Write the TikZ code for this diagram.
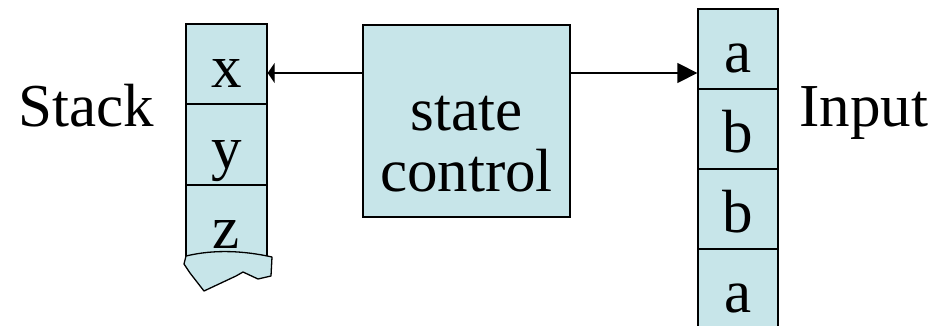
\documentclass[tikz,border=0pt]{standalone}
\usepackage{fontspec}
\setmainfont{Liberation Serif}
\usetikzlibrary{arrows.meta}
\definecolor{cellblue}{RGB}{199,229,233}
\tikzset{
  cell/.style={draw=black, line width=1.3pt, fill=cellblue, minimum width=81pt,
    inner sep=0pt, font=\fontsize{61}{61}\selectfont, text height=52pt, text depth=5pt},
  bigtext/.style={font=\fontsize{61}{61}\selectfont, inner sep=0pt},
  conn/.style={line width=1.3pt},
}
\begin{document}
\begin{tikzpicture}[x=1pt,y=-1pt]
\useasboundingbox (0,0) rectangle (939,326);
% stack
\node[cell, minimum height=80pt] (s1) at (226.5,64) {x};
\node[cell, minimum height=81pt] (s2) at (226.5,144.5) {y};
\node[cell, minimum height=80pt] (s3) at (226.5,225) {z};
% torn bottom
\filldraw[fill=cellblue, draw=black, line width=1.3pt, line join=round]
  (186,256) .. controls (215,249) and (245,251) .. (272,257)
  -- (271,276) -- (258,279) -- (243,272) -- (236,276) -- (204,291)
  -- (190,273) -- (184,264) -- cycle;
% input
\node[cell, minimum width=80pt, minimum height=80pt] (i1) at (738,49) {a};
\node[cell, minimum width=80pt, minimum height=80pt] (i2) at (738,129) {b};
\node[cell, minimum width=80pt, minimum height=80pt] (i3) at (738,209) {b};
\node[cell, minimum width=80pt, minimum height=80pt] (i4) at (738,289) {a};
% state control
\node[draw=black, line width=1.3pt, fill=cellblue, minimum width=207pt, minimum height=192pt,
  inner sep=0pt, align=center, font=\fontsize{61}{61}\selectfont,
  text height=140pt, text depth=0pt] (st) at (466.5,121) {state\\control};
% labels
\node[bigtext, anchor=base] (stack) at (86,127) {Stack};
\node[bigtext, anchor=base] (input) at (864,127) {Input};
% arrows
\coordinate (la) at ([yshift=48pt]st.west);
\coordinate (ra) at ([yshift=48pt]st.east);
\draw[conn, -{Triangle[length=7pt,width=20pt]}] (la) -- (la -| s1.east);
\draw[conn, -{Triangle[length=20pt,width=20pt]}] (ra) -- (ra -| i1.west);
\end{tikzpicture}
\end{document}
